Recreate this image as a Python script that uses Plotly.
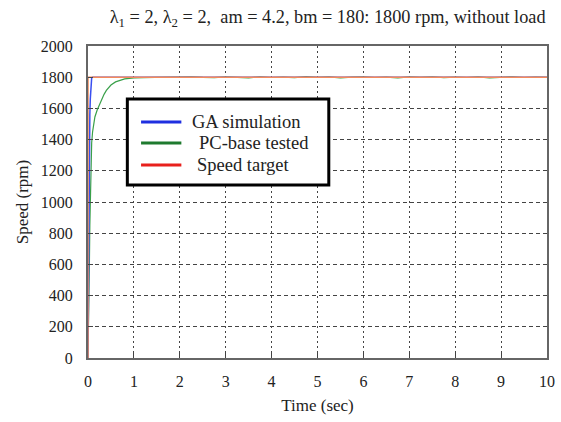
import plotly.graph_objects as go

# ---- data ----
ga_t = [0, 0.005, 0.01, 0.02, 0.03, 0.04, 0.05, 0.06, 0.07, 0.08, 0.1, 10]
ga_v = [0, 300, 600, 1200, 1420, 1560, 1660, 1730, 1775, 1795, 1800, 1800]

pc_t = [0, 0.01, 0.02, 0.03, 0.04, 0.05, 0.06, 0.07, 0.08, 0.10, 0.12, 0.15, 0.20, 0.25, 0.30,
        0.35, 0.40, 0.50, 0.60, 0.70, 0.80, 0.90, 1.0, 1.2, 1.5, 1.75, 2.0, 2.25, 2.5, 2.75,
        3.0, 3.25, 3.5, 3.75, 4.0, 4.25, 4.5, 4.75, 5.0, 5.25, 5.5, 5.75, 6.0, 6.25, 6.5,
        6.75, 7.0, 7.25, 7.5, 7.75, 8.0, 8.25, 8.5, 8.75, 9.0, 9.25, 9.5, 9.75, 10.0]
pc_v = [0, 150, 350, 600, 850, 1050, 1200, 1310, 1380, 1450, 1500, 1545, 1590, 1625, 1660,
        1690, 1715, 1750, 1770, 1782, 1789, 1793, 1796, 1797, 1799, 1801, 1798, 1803, 1799, 1797,
        1802, 1800, 1796, 1803, 1798, 1801, 1797, 1804, 1799, 1802, 1796, 1801, 1803, 1798, 1800,
        1796, 1802, 1799, 1803, 1797, 1801, 1798, 1802, 1796, 1800, 1803, 1798, 1801, 1799]

target_t = [0, 0, 10]
target_v = [0, 1800, 1800]

x_ticks = [0, 1, 2, 3, 4, 5, 6, 7, 8, 9, 10]
y_ticks = [0, 200, 400, 600, 800, 1000, 1200, 1400, 1600, 1800, 2000]

names = ["GA simulation", "PC-base tested", "Speed target"]
legend_colors = ["#1f2fe0", "#1e7a2e", "#e8201c"]

serif = "Liberation Serif, Times New Roman, Times, serif"

fig = go.Figure()
fig.add_trace(go.Scatter(x=pc_t, y=pc_v, mode="lines", line=dict(color="#3aa04a", width=1.2),
                         name=names[1], showlegend=False, hoverinfo="skip"))
fig.add_trace(go.Scatter(x=ga_t, y=ga_v, mode="lines", line=dict(color="#3a4ff0", width=1.5),
                         name=names[0], showlegend=False, hoverinfo="skip"))
fig.add_trace(go.Scatter(x=target_t, y=target_v, mode="lines", line=dict(color="#f58a5a", width=1.5),
                         name=names[2], showlegend=False, hoverinfo="skip"))

# custom legend box (paper coordinates)
shapes = [dict(type="rect", xref="paper", yref="paper", x0=0.0857, x1=0.5246, y0=0.5545, y1=0.830,
               line=dict(color="black", width=3), fillcolor="white", layer="above")]
annotations = []
row_y = [0.7564, 0.6891, 0.6186]
text_x = [0.2227, 0.2377, 0.2334]
for n, c, yy, tx in zip(names, legend_colors, row_y, text_x):
    shapes.append(dict(type="line", xref="paper", yref="paper", x0=0.1156, x1=0.2034, y0=yy, y1=yy,
                       line=dict(color=c, width=3), layer="above"))
    annotations.append(dict(xref="paper", yref="paper", x=tx, y=yy, xanchor="left", yanchor="middle",
                            text=n, showarrow=False, font=dict(family=serif, size=18.5, color="#222")))

fig.update_layout(
    width=561, height=422,
    margin=dict(l=88, r=6, t=46, b=64),
    paper_bgcolor="white", plot_bgcolor="white",
    font=dict(family=serif, size=16, color="#222"),
    showlegend=False,
    shapes=shapes, annotations=annotations,
    title=dict(text="λ<sub>1</sub> = 2, λ<sub>2</sub> = 2,  am = 4.2, bm = 180: 1800 rpm, without load",
               x=0.584, xanchor="center", y=0.96, yanchor="middle",
               font=dict(family=serif, size=18.3, color="#222")),
    xaxis=dict(range=[0, 10], tickvals=x_ticks, showgrid=True, gridcolor="#444",
               griddash="2px,3px", gridwidth=1, showline=True, linecolor="#666", linewidth=2,
               mirror=True, ticks="inside", ticklen=5, tickcolor="#444", zeroline=False,
               ticklabelstandoff=8,
               title=dict(text="Time (sec)", font=dict(family=serif, size=17), standoff=10),
               tickfont=dict(family=serif, size=16)),
    yaxis=dict(range=[0, 2000], tickvals=y_ticks, showgrid=True, gridcolor="#444",
               griddash="4px,3px", gridwidth=1, showline=True, linecolor="#666", linewidth=2,
               mirror=True, ticks="inside", ticklen=5, tickcolor="#444", zeroline=False,
               ticklabelstandoff=10,
               title=dict(text="Speed (rpm)", font=dict(family=serif, size=17), standoff=8),
               tickfont=dict(family=serif, size=16)),
)

fig.write_html("out.html")
